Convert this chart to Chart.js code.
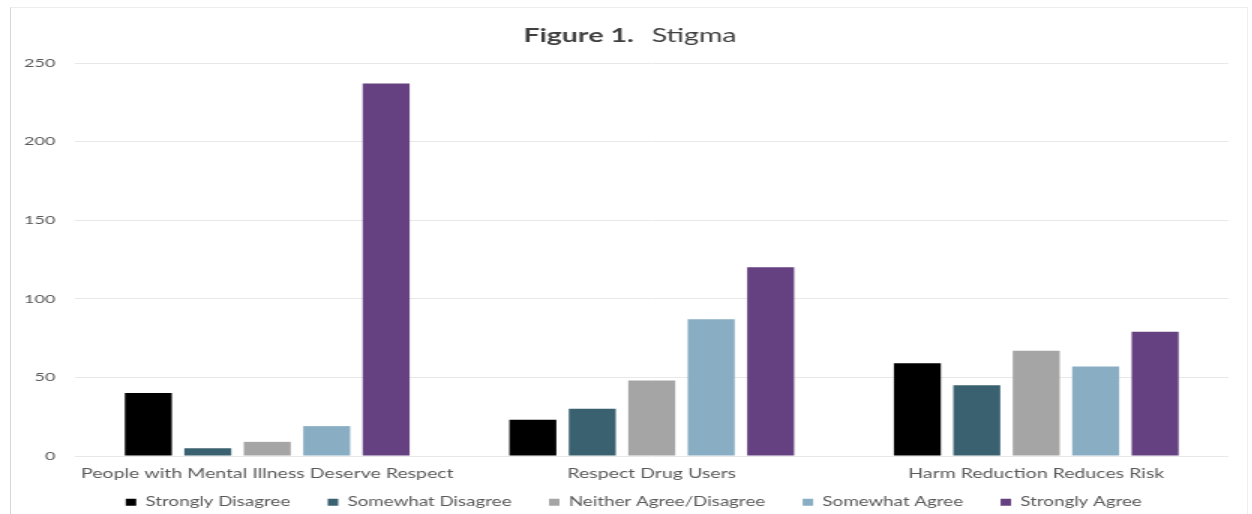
<!DOCTYPE html>
<html>
<head>
<meta charset="utf-8">
<title>Figure 1. Stigma</title>
<script src="https://cdn.jsdelivr.net/npm/chart.js@4.4.1/dist/chart.umd.min.js"></script>
<style>
  html, body { margin: 0; padding: 0; background: #ffffff; overflow: hidden; }
  #frame {
    position: absolute; left: 10px; top: 7px; width: 1236px; height: 520px;
    border-left: 1px solid #d8d8d8; border-top: 1px solid #ededed; border-right: 1px solid #f0f0f0;
  }
  /* the figure is drawn on a narrower canvas and widened 1.5x, like the original export */
  #wrap {
    position: absolute; left: 0; top: 0; width: 835px; height: 514px;
    transform: scaleX(1.5); transform-origin: 0 0;
  }
</style>
</head>
<body>
<div id="frame"></div>
<div id="wrap"><canvas id="chart"></canvas></div>
<script>
const categories = [
  'People with Mental Illness Deserve Respect',
  'Respect Drug Users',
  'Harm Reduction Reduces Risk'
];
const seriesNames = [
  'Strongly Disagree',
  'Somewhat Disagree',
  'Neither Agree/Disagree',
  'Somewhat Agree',
  'Strongly Agree'
];
const stronglyDisagree = [40, 23, 59];
const somewhatDisagree = [5, 30, 45];
const neitherAgreeDisagree = [9, 48, 67];
const somewhatAgree = [19, 87, 57];
const stronglyAgree = [237, 120, 79];
const yTicks = [0, 50, 100, 150, 200, 250];

const seriesValues = [stronglyDisagree, somewhatDisagree, neitherAgreeDisagree, somewhatAgree, stronglyAgree];
const seriesColors = ['#000000', '#3a6170', '#a5a5a5', '#89adc3', '#654181'];

const FONT = 'Lato, "Open Sans", "Liberation Sans", sans-serif';

// Title with a bold figure number followed by a regular caption
const titlePlugin = {
  id: 'mixedTitle',
  afterDraw(chart) {
    const ctx = chart.ctx;
    const boldPart = 'Figure 1.';
    const plainPart = 'Stigma';
    ctx.save();
    ctx.textBaseline = 'middle';
    ctx.fillStyle = '#3f3f3f';
    ctx.font = 'bold 19px ' + FONT;
    const wb = ctx.measureText(boldPart).width;
    ctx.font = '19px ' + FONT;
    const wp = ctx.measureText(plainPart).width;
    const gap = 12;
    const total = wb + gap + wp;
    const cx = 420;
    const y = 36;
    let x = cx - total / 2;
    ctx.textAlign = 'left';
    ctx.font = 'bold 19px ' + FONT;
    ctx.fillText(boldPart, x, y);
    ctx.font = '19px ' + FONT;
    ctx.fillText(plainPart, x + wb + gap, y);
    ctx.restore();
  }
};

// the category axis is kept thin so the legend sits close under it;
// its label area is then let run down over the legend's top padding,
// and the legend row is nudged to line up under the plot
const layoutTweaks = {
  id: 'layoutTweaks',
  afterLayout(chart) {
    chart.scales.x.bottom += 22;
    const lg = chart.legend;
    if (lg) {
      lg.left += 13;
      lg.right += 13;
      lg.top += 2;
      lg.bottom += 2;
    }
  }
};

new Chart(document.getElementById('chart'), {
  type: 'bar',
  data: {
    labels: categories,
    datasets: seriesNames.map((name, i) => ({
      label: name,
      data: seriesValues[i],
      backgroundColor: seriesColors[i],
      borderWidth: 0,
      categoryPercentage: 0.773,
      barPercentage: 0.79
    }))
  },
  options: {
    responsive: true,
    maintainAspectRatio: false,
    animation: false,
    layout: { padding: { top: 63, right: 16, bottom: 0, left: 0 } },
    scales: {
      x: {
        grid: { display: false, drawTicks: false },
        border: { display: false },
        ticks: { color: '#595959', font: { family: FONT, size: 13 }, padding: 10, maxRotation: 0, autoSkip: false },
        afterFit(scale) { scale.height = 13; }
      },
      y: {
        min: 0,
        max: 250,
        afterBuildTicks(scale) { scale.ticks = yTicks.map(v => ({ value: v })); },
        grid: { color: '#e8e8e8', lineWidth: 1, drawTicks: false },
        border: { display: false },
        ticks: { color: '#595959', font: { family: FONT, size: 12 }, padding: 13 },
        afterFit(scale) { scale.width = 50; }
      }
    },
    plugins: {
      legend: {
        position: 'bottom',
        maxHeight: 45,
        labels: {
          boxWidth: 7,
          boxHeight: 7,
          padding: 25,
          color: '#595959',
          font: { family: FONT, size: 12.5 }
        }
      },
      title: { display: false },
      tooltip: { enabled: false }
    }
  },
  plugins: [titlePlugin, layoutTweaks]
});
</script>
</body>
</html>
